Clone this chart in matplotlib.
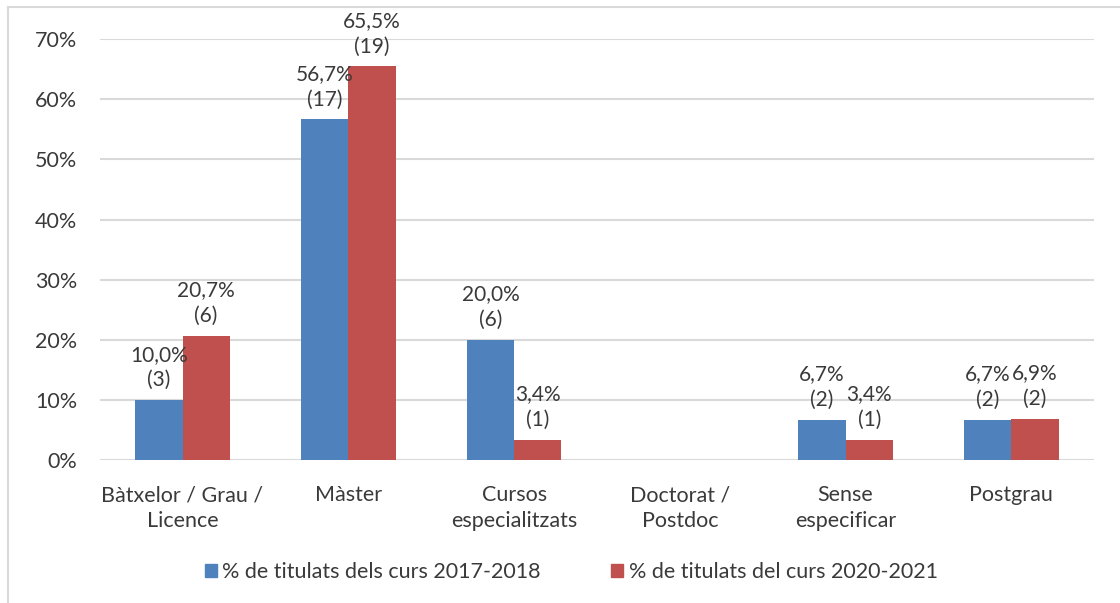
import numpy as np
import matplotlib.pyplot as plt
from matplotlib.lines import Line2D

plt.rcParams['font.family'] = ['Lato', 'DejaVu Sans']

categories = ["Bàtxelor / Grau /\nLicence", "Màster", "Cursos\nespecialitzats",
              "Doctorat /\nPostdoc", "Sense\nespecificar", "Postgrau"]
pct_2017 = [10.0, 56.7, 20.0, 0.0, 6.7, 6.7]
pct_2020 = [20.7, 65.5, 3.4, 0.0, 3.4, 6.9]
n_2017 = [3, 17, 6, 0, 2, 2]
n_2020 = [6, 19, 1, 0, 1, 2]
series_names = ["% de titulats dels curs 2017-2018", "% de titulats del curs 2020-2021"]

blue = "#4F81BD"
red = "#C0504D"
txt = "#3A3A3A"
fs = 15.5

fig = plt.figure(figsize=(11.2, 6.03), dpi=100)
ax = fig.add_axes([0.089, 0.237, 0.888, 0.698])

x = np.arange(len(categories))
w = 0.285
b1 = ax.bar(x - w/2, pct_2017, w, color=blue, zorder=3)
b2 = ax.bar(x + w/2, pct_2020, w, color=red, zorder=3)

def fmt(v):
    return f"{v:.1f}".replace(".", ",") + "%"

for bars, vals, ns in [(b1, pct_2017, n_2017), (b2, pct_2020, n_2020)]:
    for b, v, n in zip(bars, vals, ns):
        if n == 0:
            continue
        ax.annotate(f"{fmt(v)}\n({n})", (b.get_x() + b.get_width()/2, v),
                    xytext=(0, 7), textcoords="offset points",
                    ha="center", va="bottom", fontsize=15, color=txt,
                    linespacing=1.35, zorder=4)

ax.set_ylim(0, 70)
ax.set_xlim(-0.5, len(categories) - 0.5)
ax.set_yticks(np.arange(0, 71, 10))
ax.set_yticklabels([f"{v}%" for v in range(0, 71, 10)])
ax.set_xticks(x)
ax.set_xticklabels(categories, linespacing=1.4)
ax.tick_params(length=0, labelsize=fs, colors=txt, pad=18)
ax.tick_params(axis="y", pad=16)
ax.grid(axis="y", color="#D9D9D9", linewidth=1.5, zorder=0)
for s in ax.spines.values():
    s.set_visible(False)

handles = [plt.Rectangle((0, 0), 1, 1, color=blue), plt.Rectangle((0, 0), 1, 1, color=red)]
fig.legend(handles, series_names, loc="center", bbox_to_anchor=(0.51, 0.052), ncol=2,
           frameon=False, fontsize=fs, handlelength=0.55, handleheight=0.55,
           handletextpad=0.25, columnspacing=3.3, labelcolor=txt)

# light border of the chart area
fig.add_artist(Line2D([8/1120, 8/1120], [0, 1 - 7/603], color="#D9D9D9", lw=1.5))
fig.add_artist(Line2D([8/1120, 1], [1 - 7/603, 1 - 7/603], color="#D9D9D9", lw=1.5))

fig.savefig("out.png", dpi=100)
